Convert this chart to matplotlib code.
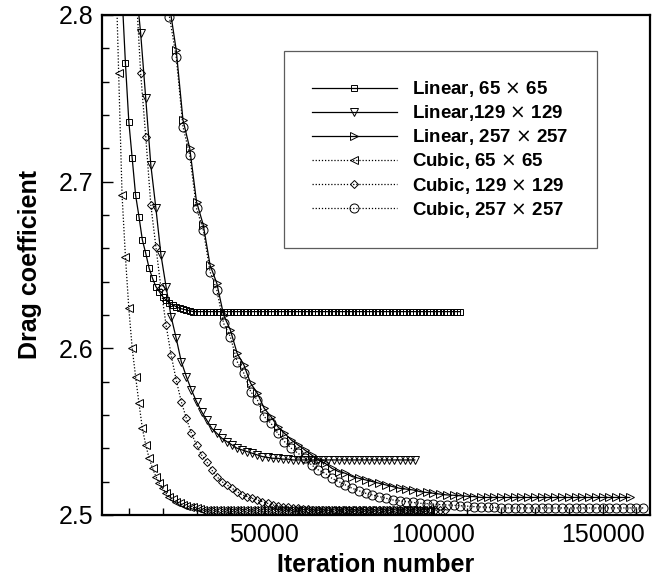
import numpy as np
import matplotlib
matplotlib.use("Agg")
import matplotlib.pyplot as plt
from matplotlib.ticker import MultipleLocator

plt.rcParams['font.family'] = ['Liberation Sans', 'DejaVu Sans']

# drag coefficient histories, sampled at a fixed iteration interval
lin65_start, lin65_step = 8000, 1000
lin65_cd = [2.812, 2.771, 2.736, 2.714, 2.692, 2.679, 2.665, 2.657, 2.648, 2.642,
            2.637, 2.634, 2.631, 2.629, 2.627, 2.626, 2.625, 2.624, 2.6235, 2.623,
            2.6225,
            2.622, 2.622, 2.622, 2.622, 2.622, 2.622, 2.622, 2.622, 2.622, 2.622,
            2.622, 2.622, 2.622, 2.622, 2.622, 2.622, 2.622, 2.622, 2.622, 2.622,
            2.622, 2.622, 2.622, 2.622, 2.622, 2.622, 2.622, 2.622, 2.622, 2.622,
            2.622, 2.622, 2.622, 2.622, 2.622, 2.622, 2.622, 2.622, 2.622, 2.622,
            2.622, 2.622, 2.622, 2.622, 2.622, 2.622, 2.622, 2.622, 2.622, 2.622,
            2.622, 2.622, 2.622, 2.622, 2.622, 2.622, 2.622, 2.622, 2.622, 2.622,
            2.622, 2.622, 2.622, 2.622, 2.622, 2.622, 2.622, 2.622, 2.622, 2.622,
            2.622, 2.622, 2.622, 2.622, 2.622, 2.622, 2.622, 2.622, 2.622, 2.622]

lin129_start, lin129_step = 12000, 1500
lin129_cd = [2.820, 2.789, 2.750, 2.710, 2.684, 2.656, 2.637, 2.619, 2.606, 2.592,
             2.583, 2.575, 2.568, 2.562, 2.557, 2.552, 2.549, 2.546, 2.544, 2.542,
             2.540, 2.539, 2.538, 2.537, 2.536, 2.535, 2.5345, 2.534, 2.534, 2.5335,
             2.5335,
             2.533, 2.533, 2.533, 2.533, 2.533, 2.533, 2.533, 2.533, 2.533, 2.533,
             2.533, 2.533, 2.533, 2.533, 2.533, 2.533, 2.533, 2.533, 2.533, 2.533,
             2.533, 2.533, 2.533, 2.533, 2.533]

lin257_start, lin257_step = 22000, 2000
lin257_cd = [2.806, 2.779, 2.737, 2.720, 2.688, 2.674, 2.650, 2.639, 2.620, 2.611,
             2.597, 2.590, 2.579, 2.573, 2.564, 2.559, 2.553, 2.549, 2.545, 2.542,
             2.539, 2.536, 2.533, 2.531, 2.528, 2.526, 2.525, 2.523, 2.522, 2.521,
             2.520, 2.519, 2.518, 2.517, 2.516, 2.5155, 2.515, 2.514, 2.5135, 2.513,
             2.5125, 2.512, 2.5118, 2.5115, 2.5112, 2.511,
             2.5105, 2.5105, 2.5105, 2.5105, 2.5105, 2.5105, 2.5105, 2.5105, 2.5105, 2.5105,
             2.5105, 2.5105, 2.5105, 2.5105, 2.5105, 2.5105, 2.5105, 2.5105, 2.5105, 2.5105,
             2.5105, 2.5105, 2.5105]

cub65_start, cub65_step = 6000, 1000
cub65_cd = [2.840, 2.765, 2.692, 2.655, 2.624, 2.600, 2.583, 2.567, 2.552, 2.542,
            2.534, 2.528, 2.523, 2.519, 2.516, 2.513, 2.511, 2.5095, 2.508, 2.507,
            2.506, 2.5055, 2.505, 2.5045, 2.504, 2.5035,
            2.503, 2.503, 2.503, 2.503, 2.503, 2.503, 2.503, 2.503, 2.503, 2.503,
            2.503, 2.503, 2.503, 2.503, 2.503, 2.503, 2.503, 2.503, 2.503, 2.503,
            2.503, 2.503, 2.503, 2.503, 2.503, 2.503, 2.503, 2.503, 2.503, 2.503,
            2.503, 2.503, 2.503, 2.503, 2.503, 2.503, 2.503, 2.503, 2.503, 2.503,
            2.503, 2.503, 2.503, 2.503, 2.503, 2.503, 2.503, 2.503, 2.503, 2.503,
            2.503, 2.503, 2.503, 2.503, 2.503, 2.503, 2.503, 2.503, 2.503, 2.503,
            2.503, 2.503, 2.503, 2.503, 2.503, 2.503, 2.503, 2.503]

cub129_start, cub129_step = 12000, 1500
cub129_cd = [2.820, 2.765, 2.727, 2.686, 2.661, 2.636, 2.614, 2.596, 2.581, 2.568,
             2.558, 2.549, 2.542, 2.536, 2.532, 2.527, 2.523, 2.520, 2.518, 2.516,
             2.514, 2.512, 2.511, 2.510, 2.509, 2.508, 2.507, 2.506, 2.5055, 2.505,
             2.5045, 2.504, 2.504, 2.5035, 2.5035,
             2.503, 2.503, 2.503, 2.503, 2.503, 2.503, 2.503, 2.503, 2.503, 2.503,
             2.503, 2.503, 2.503, 2.503, 2.503, 2.503, 2.503, 2.503, 2.503, 2.503,
             2.503, 2.503, 2.503, 2.503, 2.503, 2.503, 2.503]

cub257_start, cub257_step = 22000, 2000
cub257_cd = [2.799, 2.775, 2.733, 2.716, 2.684, 2.671, 2.646, 2.635, 2.615, 2.607,
             2.592, 2.585, 2.574, 2.569, 2.559, 2.555, 2.549, 2.544, 2.540, 2.537,
             2.534, 2.530, 2.527, 2.525, 2.522, 2.520, 2.518, 2.516, 2.5145, 2.513,
             2.512, 2.511, 2.510, 2.509, 2.5085, 2.508, 2.5075, 2.507, 2.5068, 2.5065,
             2.5062, 2.506, 2.5058, 2.5055, 2.5053, 2.505, 2.5048, 2.5046, 2.5045,
             2.5042, 2.5042, 2.5042, 2.5042, 2.5042, 2.5042, 2.5042, 2.5042, 2.5042, 2.5042,
             2.5042, 2.5042, 2.5042, 2.5042, 2.5042, 2.5042, 2.5042, 2.5042, 2.5042, 2.5042,
             2.5042, 2.5042]

labels = ['Linear, 65 $\\times$ 65', 'Linear,129 $\\times$ 129', 'Linear, 257 $\\times$ 257',
          'Cubic, 65 $\\times$ 65', 'Cubic, 129 $\\times$ 129', 'Cubic, 257 $\\times$ 257']

series = [(lin65_start, lin65_step, lin65_cd, 's', '-', 5.0),
          (lin129_start, lin129_step, lin129_cd, 'v', '-', 5.5),
          (lin257_start, lin257_step, lin257_cd, '>', '-', 5.5),
          (cub65_start, cub65_step, cub65_cd, '<', ':', 5.5),
          (cub129_start, cub129_step, cub129_cd, 'D', ':', 4.5),
          (cub257_start, cub257_step, cub257_cd, 'o', ':', 6.5)]

fig = plt.figure(figsize=(6.65, 5.76), dpi=100)
ax = fig.add_axes([0.153, 0.106, 0.8244, 0.868])

for (start, step, cd, mk, ls, ms), lab in zip(series, labels):
    it = start + step * np.arange(len(cd))
    dash = '-' if ls == '-' else (0, (1, 1.5))
    ax.plot(it, cd, color='black', linestyle=dash, lw=0.9, marker=mk, ms=ms,
            mfc='none', mec='black', mew=0.7, label=lab)

ax.set_xlim(2000, 164000)
ax.set_ylim(2.5, 2.8)
ax.set_xticks([50000, 100000, 150000])
ax.xaxis.set_minor_locator(MultipleLocator(10000))
ax.set_yticks([2.5, 2.6, 2.7, 2.8])
ax.yaxis.set_minor_locator(MultipleLocator(0.02))
ax.tick_params(which='both', direction='in', top=False, right=False, labelsize=18, width=1.0)
ax.tick_params(which='major', length=8, pad=6)
ax.tick_params(which='minor', length=5)
for sp in ax.spines.values():
    sp.set_linewidth(1.6)

ax.set_xlabel('Iteration number', fontsize=18, fontweight='bold', labelpad=4)
ax.set_ylabel('Drag coefficient', fontsize=18, fontweight='bold', labelpad=12)

leg = ax.legend(loc='upper left', bbox_to_anchor=(0.3325, 0.928), borderaxespad=0,
                fancybox=False, numpoints=1, handlelength=4.5, handletextpad=0.85,
                borderpad=1.5, labelspacing=0.22, prop={'size': 13.5, 'weight': 'bold'})
leg.get_frame().set_edgecolor('#333333')
leg.get_frame().set_linewidth(0.9)

fig.savefig('out.png', dpi=100)
